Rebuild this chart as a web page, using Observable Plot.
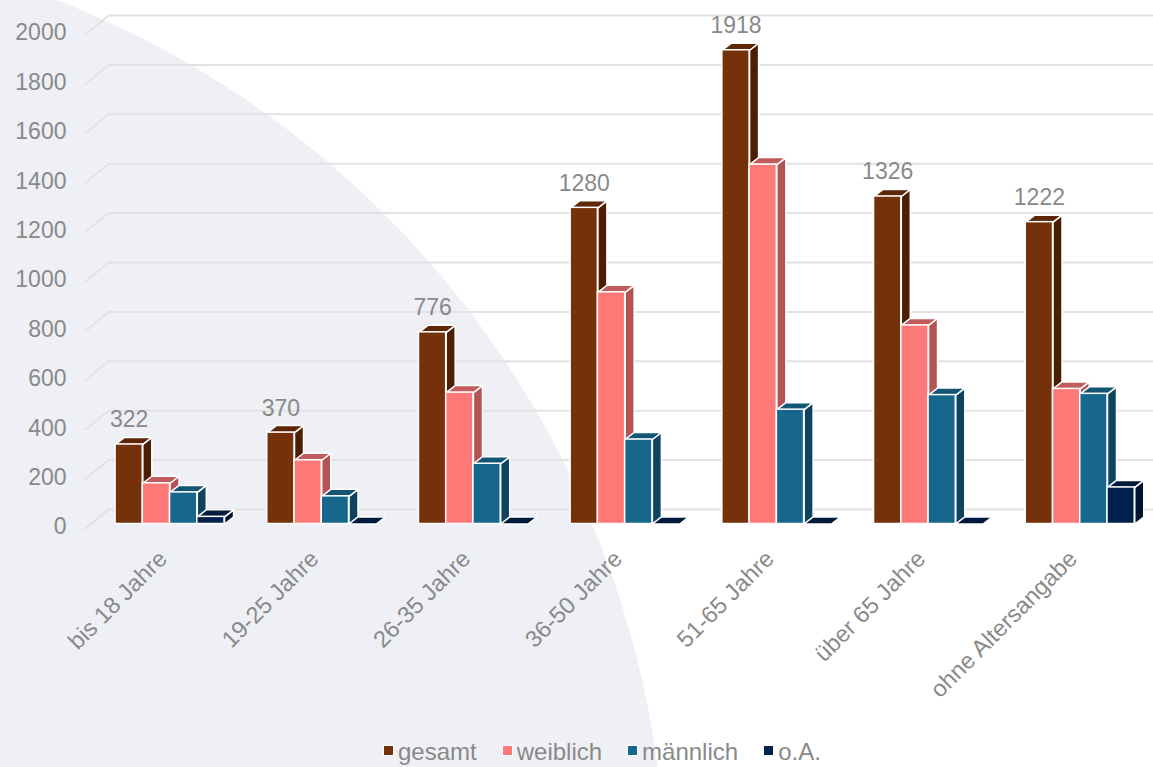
<!DOCTYPE html>
<html><head><meta charset="utf-8">
<script src="https://cdn.jsdelivr.net/npm/d3@7"></script>
<script src="https://cdn.jsdelivr.net/npm/@observablehq/plot@0.6"></script>
<style>
html,body{margin:0;padding:0;width:1153px;height:767px;overflow:hidden}
body{background: radial-gradient(circle 959px at -293px 893px, #eef0f5 958.5px, #ffffff 959.5px);font-family:"Liberation Sans", Arial, sans-serif;}
#legend{display:flex;align-items:baseline;padding-left:383px;height:27px;line-height:23px;font-size:24px;color:#898989;white-space:nowrap}
#legend .item{display:flex;align-items:baseline;margin-right:25px}
#legend .sw{display:inline-block;width:9px;height:9px;border:1.5px solid #fff;margin-right:4px;position:relative;top:-4px}
</style></head><body>
<div id="chart"></div>
<div id="legend"></div>
<script>
const categories = ["bis 18 Jahre","19-25 Jahre","26-35 Jahre","36-50 Jahre","51-65 Jahre","über 65 Jahre","ohne Altersangabe"];
const series = ["gesamt","weiblich","männlich","o.A."];
const gesamt   = [322, 370, 776, 1280, 1918, 1326, 1222];
const weiblich = [165, 258, 532,  938, 1455,  804,  547];
const maennlich= [128, 112, 244,  342,  463,  522,  527];
const oA       = [ 29,   0,   0,    0,    0,    0,  148];
const yTicks = [0,200,400,600,800,1000,1200,1400,1600,1800,2000];
const frontColors = ["#75310a","#ff7878","#17668c","#00214e"];
const sideColors  = ["#4c1f05","#b35353","#0f4460","#00152f"];
const topColors   = ["#5c2607","#c25c5c","#125574","#001a3e"];

const values = [gesamt, weiblich, maennlich, oA];
const W = 1153, H = 740;
const X0 = 93.7, P = 151.7, BW = 27.25, PAD = 21.35, DX = 9, DY = 7;
const yBase = 523.5, yTop = 29.5;
const s = (yBase - yTop) / 2000;
const ux = px => px / P;          // pixel length -> x units
const uy = px => px / s;          // pixel length -> y units
const xAt = px => (px - X0) / P;  // pixel position -> x units

const textColor = "#898989";
const font = "Liberation Sans, Arial, sans-serif";

// gridlines (floor front -> back -> right)
const gridPts = [];
yTicks.forEach(t => {
  gridPts.push({t, x: xAt(85), y: t - uy(4.5)});
  gridPts.push({t, x: xAt(108), y: t + uy(14.5)});
  gridPts.push({t, x: xAt(1160), y: t + uy(14.5)});
});

const marks = [];
marks.push(Plot.line(gridPts, {x: "x", y: "y", z: "t", stroke: "#e2e2e2", strokeWidth: 2}));
marks.push(Plot.text(yTicks, {x: () => xAt(66), y: d => d, dy: 3, text: d => String(d), textAnchor: "end", fontSize: 23, fill: textColor}));

series.forEach((name, j) => {
  const rows = categories.map((c, i) => {
    const x1 = i + ux(PAD + j * BW);
    const x2 = x1 + ux(BW);
    return {c, i, v: values[j][i], x1, x2};
  });
  const side = [], top = [];
  rows.forEach(r => {
    const ex = ux(DX), ey = uy(DY);
    side.push({k: r.i, x: r.x2, y: 0}, {k: r.i, x: r.x2 + ex, y: ey}, {k: r.i, x: r.x2 + ex, y: r.v + ey}, {k: r.i, x: r.x2, y: r.v}, {k: r.i, x: r.x2, y: 0});
    top.push({k: r.i, x: r.x1, y: r.v}, {k: r.i, x: r.x1 + ex, y: r.v + ey}, {k: r.i, x: r.x2 + ex, y: r.v + ey}, {k: r.i, x: r.x2, y: r.v}, {k: r.i, x: r.x1, y: r.v});
  });
  marks.push(Plot.line(side, {x: "x", y: "y", z: "k", fill: sideColors[j], stroke: "#fff", strokeWidth: 1.5, strokeLinejoin: "round"}));
  marks.push(Plot.line(top, {x: "x", y: "y", z: "k", fill: topColors[j], stroke: "#fff", strokeWidth: 1.5, strokeLinejoin: "round"}));
  marks.push(Plot.rect(rows, {x1: "x1", x2: "x2", y1: () => 0, y2: "v", fill: frontColors[j], stroke: "#fff", strokeWidth: 1.5}));
});

// value labels on gesamt
marks.push(Plot.text(categories.map((c, i) => ({i, v: gesamt[i]})), {
  x: d => d.i + ux(PAD + BW / 2), y: "v", text: d => String(d.v), dy: -17, lineAnchor: "bottom",
  fontSize: 23, fill: textColor
}));

// category labels
marks.push(Plot.text(categories, {
  x: (d, i) => i + 0.5 + ux(-7), y: () => 0, text: d => d, dy: 31, rotate: -45,
  textAnchor: "end", lineAnchor: "middle", fontSize: 23.5, fill: textColor
}));

const chart = Plot.plot({
  width: W, height: H,
  marginTop: 0, marginRight: 0, marginBottom: 0, marginLeft: 0,
  x: {type: "linear", domain: [0, 7], range: [X0, X0 + 7 * P], axis: null},
  y: {type: "linear", domain: [0, 2000], range: [yBase, yTop], axis: null},
  style: {background: "transparent", fontFamily: font, overflow: "visible"},
  marks
});
document.getElementById("chart").appendChild(chart);

const legend = document.getElementById("legend");
series.forEach((name, j) => {
  const item = document.createElement("span");
  item.className = "item";
  const sw = document.createElement("span");
  sw.className = "sw";
  sw.style.background = frontColors[j];
  item.appendChild(sw);
  item.appendChild(document.createTextNode(name));
  legend.appendChild(item);
});
</script>
</body></html>
